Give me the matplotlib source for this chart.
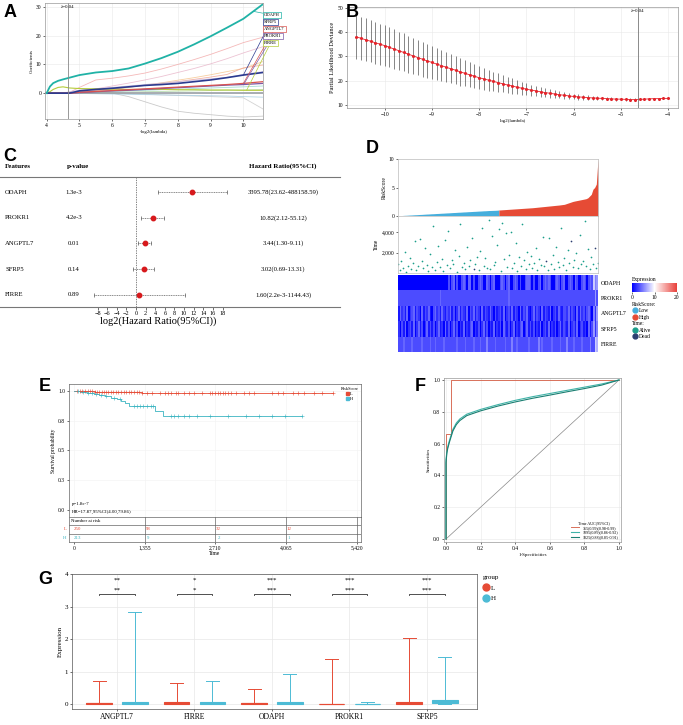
import numpy as np
import matplotlib
matplotlib.use("Agg")
import matplotlib.pyplot as plt
from matplotlib.colors import LinearSegmentedColormap, Normalize
from matplotlib.cm import ScalarMappable
from matplotlib.lines import Line2D
from matplotlib.patches import Patch

W, H = 683, 725

# ---------------- data ----------------
# A: lasso coefficient paths
coef_x = [4, 4.1, 4.2, 4.35, 4.5, 4.7, 5, 5.5, 6, 6.5, 7, 7.5, 8, 8.5, 9, 9.5, 10, 10.6]
coef_odaph = [0, 2.3, 3.5, 4.3, 4.8, 5.4, 6.3, 7.2, 7.7, 8.6, 10.3, 12.2, 14.4, 17.0, 19.8, 22.8, 25.9, 31.0]
coef_sfrp5 = [0, 0, 0, 0, 0, 0, 0.8, 1.3, 1.7, 2.2, 2.7, 3.0, 3.4, 4.0, 4.6, 5.4, 6.3, 7.2]
coef_angptl7 = [0, 0, 0, 0, 0, 0, 0.3, 0.6, 0.9, 1.2, 1.5, 1.8, 2.1, 2.4, 2.7, 3.0, 3.4, 4.0]
coef_prokr1 = [0, 0, 0, 0, 0, 0, 0.2, 0.5, 0.8, 1.0, 1.3, 1.6, 1.9, 2.2, 2.5, 2.8, 3.0, 3.4]
coef_firre = [0, 0.5, 1.3, 2.0, 2.2, 1.8, 1.6, 1.5, 1.4, 1.3, 1.3, 1.3, 1.2, 1.2, 1.1, 1.1, 1.0, 1.0]
coef_other = [
    [0, 0, 0, 0, 0, 0.3, 2.0, 4.6, 5.2, 6.0, 7.0, 8.4, 10.0, 11.7, 13.5, 15.5, 17.6, 19.5],
    [0, 0, 0, 0, 0, 0, 0.5, 1.5, 2.5, 3.5, 4.6, 5.8, 7.2, 8.6, 10.2, 12.0, 14.0, 16.2],
    [0, 0, 0, 0, 0, 0, 0.3, 0.8, 1.3, 2.0, 2.8, 3.6, 4.5, 5.4, 6.4, 7.5, 8.6, 11.0],
    [0, 0, 0, 0, 0, 0, 0.5, 1.0, 1.5, 2.1, 2.7, 3.3, 4.0, 4.8, 5.6, 6.5, 8.8, 9.8],
    [0, 0, 0, 0, 0, 0, 0.2, 0.3, 0.0, -1.2, -3.0, -4.8, -6.3, -7.0, -7.5, -8.0, -8.3, -8.0],
    [0, 0, 0, 0, 0, 0, 0, 0, 0, -0.2, -0.4, -0.6, -0.8, -1.0, -1.2, -1.4, -1.6, -5.5],
    [0, 0, 0, 0, 0, 0, -0.1, -0.2, -0.3, -0.4, -0.5, -0.6, -0.7, -0.8, -0.9, -1.0, -1.2, -1.4],
    [0, 0, 0, 0, 0, 0, 0.1, 0.2, 0.3, 0.4, 0.5, 0.6, 0.7, 0.8, 0.9, 1.0, 1.1, 1.2],
    [0, 0, 0, 0, 0, 0, 0.2, 0.4, 0.6, 0.8, 1.0, 1.2, 1.4, 1.6, 1.8, 2.0, 2.2, 2.5],
    [0, 0, 0, 0, 0, 0.5, 1.0, 1.5, 2.0, 2.5, 3.0, 3.5, 4.0, 4.5, 5.0, 5.5, 6.5, 7.5],
]
coef_other_colors = ["#f2a7a7", "#e8b4c8", "#f5c38a", "#f0a090", "#bdbdbd", "#c8c8c8",
                     "#9ecae1", "#a8d5a0", "#8fd3c8", "#c7b8e0"]
lam_best = 0.04

# B: cross validation curve
log_lam = np.round(np.arange(-10.6, -3.95, 0.1), 1)
cvm = [38.0, 37.4, 36.8, 36.2, 35.6, 35.0, 34.4,
       33.7, 33.0, 32.3, 31.6, 30.9, 30.2, 29.5, 28.8, 28.1, 27.5,
       26.8, 26.2, 25.5, 24.9, 24.3, 23.6, 23.0, 22.4, 21.8, 21.2,
       20.7, 20.2, 19.7, 19.2, 18.7, 18.2, 17.8, 17.3, 16.9, 16.5,
       16.1, 15.8, 15.4, 15.1, 14.8, 14.5, 14.2, 14.0, 13.7, 13.5,
       13.3, 13.2, 13.0, 12.9, 12.8, 12.7, 12.6, 12.5, 12.4, 12.4,
       12.3, 12.2, 12.2, 12.3, 12.4, 12.5, 12.6, 12.6, 12.7, 12.7]
cvsd = [9.0, 8.9, 8.8, 8.7, 8.6, 8.5, 8.4,
        8.2, 8.1, 7.9, 7.8, 7.6, 7.5, 7.3, 7.1, 7.0, 6.8,
        6.6, 6.4, 6.2, 6.0, 5.8, 5.6, 5.4, 5.2, 5.0, 4.8,
        4.5, 4.3, 4.0, 3.8, 3.5, 3.3, 3.1, 2.9, 2.7, 2.5,
        2.3, 2.2, 2.0, 1.9, 1.8, 1.6, 1.5, 1.4, 1.3, 1.2,
        1.1, 1.0, 0.9, 0.9, 0.8, 0.7, 0.7, 0.6, 0.6, 0.5,
        0.5, 0.5, 0.5, 0.4, 0.4, 0.4, 0.4, 0.4, 0.4, 0.4]

# C: multivariate cox
genes_c = ["ODAPH", "PROKR1", "ANGPTL7", "SFRP5", "FIRRE"]
pvals_c = ["1.3e-3", "4.2e-3", "0.01", "0.14", "0.89"]
hr_c = [3395.78, 10.82, 3.44, 3.02, 1.60]
hr_lo = [23.62, 2.12, 1.30, 0.69, 2.2e-3]
hr_hi = [488158.59, 55.12, 9.11, 13.31, 1144.43]
hr_text = ["3395.78(23.62-488158.59)", "10.82(2.12-55.12)", "3.44(1.30-9.11)",
           "3.02(0.69-13.31)", "1.60(2.2e-3-1144.43)"]

# D: risk score, survival time, expression heatmap
risk_score = [0.05, 0.07, 0.08, 0.10, 0.12, 0.13, 0.15, 0.17, 0.18, 0.20,
              0.22, 0.23, 0.25, 0.27, 0.28, 0.30, 0.32, 0.34, 0.35, 0.37,
              0.39, 0.40, 0.42, 0.44, 0.45, 0.47, 0.49, 0.50, 0.52, 0.54,
              0.55, 0.57, 0.59, 0.61, 0.62, 0.64, 0.66, 0.67, 0.69, 0.71,
              0.72, 0.74, 0.76, 0.77, 0.79, 0.81, 0.82, 0.84, 0.86, 0.87,
              0.89, 0.91, 0.92, 0.94, 0.96, 0.97, 0.98, 0.99, 1.00, 1.02,
              1.05, 1.07, 1.09, 1.11, 1.13, 1.15, 1.17, 1.19, 1.21, 1.23,
              1.25, 1.27, 1.29, 1.31, 1.33, 1.35, 1.37, 1.39, 1.41, 1.43,
              1.45, 1.48, 1.51, 1.54, 1.57, 1.60, 1.63, 1.66, 1.69, 1.72,
              1.75, 1.78, 1.81, 1.84, 1.87, 1.90, 1.93, 1.97, 2.01, 2.05,
              2.15, 2.25, 2.35, 2.45, 2.55, 2.62, 2.68, 2.74, 2.80, 2.86,
              2.92, 2.98, 3.05, 3.2, 3.5, 3.8, 4.7, 5.0, 5.6, 10.0]
n_low = 60
surv_time = [850, 300, 1200, 520, 2100, 90, 640, 1500, 410, 980,
             3100, 260, 700, 3300, 1150, 450, 2500, 800, 150, 1900,
             620, 4600, 330, 1050, 2700, 560, 1400, 210, 3200, 760,
             4100, 480, 1300, 880, 2300, 120, 1700, 4800, 590, 1000,
             350, 2600, 730, 1250, 3400, 440, 920, 1600, 270, 2200,
             4400, 680, 1450, 510, 5200, 380, 3600, 820, 1100, 2800,
             4300, 230, 4900, 1350, 3900, 610, 1800, 4000, 460, 950,
             2900, 180, 1550, 720, 4800, 1250, 390, 2100, 860, 1650,
             530, 1020, 2450, 310, 1400, 780, 3500, 650, 1200, 250,
             3400, 900, 1750, 420, 2600, 1100, 570, 4400, 740, 1500,
             330, 2300, 970, 3100, 600, 1300, 2000, 480, 3700, 840,
             1150, 5100, 700, 2400, 360, 1600, 920, 2500, 540, 1000]
dead_idx = [45, 88, 103, 117]
heat_genes = ["ODAPH", "PROKR1", "ANGPTL7", "SFRP5", "FIRRE"]
heat_rows = [
    "0000000000" "0000000000" "0000000000" "3034030034" "3044030034" "3004303400"
    "0343034003" "4303003443" "0300340343" "4300343034" "0034304300" "3430343856",
    "3333333333" "3333333333" "3333343333" "3333333333" "3333333333" "3333333333"
    "3333334333" "3333333333" "3333333333" "3333333333" "3333333333" "3333333363",
    "1423140234" "1320413241" "0342314213" "2413024132" "1403241320" "4132142031"
    "2314023141" "3204132410" "2413204132" "1402314213" "3241320414" "2313420526",
    "2031402314" "0241302413" "1302412041" "3024130214" "0213402130" "2413021402"
    "1304213024" "0213402413" "1302140231" "4021302413" "2140231402" "3120413625",
    "3334333343" "3333433334" "3343333433" "3333343333" "4333343334" "3335333343"
    "3333433353" "3433333343" "3333534333" "3343333433" "3533343333" "4333353387",
]

# E: Kaplan-Meier
km_t_L = [0, 400, 900, 1300, 1700, 4960]
km_s_L = [1.0, 0.995, 0.99, 0.985, 0.98, 0.98]
km_t_H = [0, 120, 250, 380, 480, 600, 700, 820, 900, 980, 1060, 1560, 1710, 4370]
km_s_H = [1.0, 0.99, 0.98, 0.975, 0.965, 0.955, 0.945, 0.935, 0.92, 0.90, 0.87, 0.83, 0.79, 0.79]
cens_L = [60, 110, 160, 210, 260, 300, 350, 400, 440, 480, 530, 570, 620, 660, 700, 750,
          800, 850, 900, 950, 1000, 1050, 1100, 1150, 1200, 1250, 1300, 1400, 1500, 1650,
          1750, 1800, 1850, 1950, 2000, 2100, 2200, 2300, 2450, 2600, 2650, 2700, 2750,
          2800, 2850, 2900, 2950, 3000, 3100, 3250, 3350, 3450, 3800, 3900, 4000, 4200,
          4300, 4400, 4600, 4750, 4960]
cens_H = [80, 180, 260, 340, 420, 520, 620, 760, 880, 1150, 1200, 1260, 1330, 1400, 1480,
          1520, 1850, 1920, 2000, 2100, 2200, 2350, 2600, 2950, 3300, 3550, 3800, 4050, 4370]
risk_ticks = [0, 1355, 2710, 4065, 5420]
at_risk_L = [250, 98, 32, 12]
at_risk_H = [213, 9, 2, 1]

# F: time dependent ROC
roc_fpr_365 = [0, 0, 0.03, 0.03, 1.0]
roc_tpr_365 = [0, 0.66, 0.66, 1.0, 1.0]
roc_fpr = [0, 0, 0.005, 0.01, 0.02, 0.04, 0.06, 0.08, 0.12, 0.2, 0.3, 0.4, 0.5, 0.6, 0.7, 0.8, 0.9, 1.0]
roc_tpr_1095 = [0, 0.5, 0.55, 0.58, 0.62, 0.69, 0.73, 0.755, 0.785, 0.815, 0.845, 0.872, 0.895, 0.915, 0.935, 0.955, 0.975, 1.0]
roc_tpr_1825 = [0, 0.48, 0.54, 0.57, 0.61, 0.68, 0.72, 0.745, 0.776, 0.806, 0.836, 0.862, 0.885, 0.905, 0.926, 0.946, 0.968, 1.0]
roc_labels = ["365(0.99)(0.98-0.99)", "1095(0.89)(0.86-0.92)", "1825(0.88)(0.85-0.91)"]

# G: expression by group
genes_g = ["ANGPTL7", "FIRRE", "ODAPH", "PROKR1", "SFRP5"]
box_L = [(0.0, 0.02, 0.04, 0.70), (0.01, 0.03, 0.06, 0.65), (0.0, 0.02, 0.04, 0.46),
         (0.0, 0.005, 0.01, 1.40), (0.01, 0.04, 0.08, 2.03)]
box_H = [(0.0, 0.03, 0.06, 2.82), (0.01, 0.03, 0.06, 0.72), (0.0, 0.03, 0.06, 0.93),
         (0.0, 0.005, 0.01, 0.08), (0.02, 0.06, 0.12, 1.44)]
sig_g = ["**", "*", "***", "***", "***"]

# ---------------- style ----------------
plt.rcParams["font.family"] = ["Liberation Serif", "DejaVu Serif"]
plt.rcParams["font.size"] = 4
plt.rcParams["axes.linewidth"] = 0.5
plt.rcParams["xtick.major.width"] = 0.4
plt.rcParams["ytick.major.width"] = 0.4
plt.rcParams["xtick.major.size"] = 1.5
plt.rcParams["ytick.major.size"] = 1.5
plt.rcParams["xtick.major.pad"] = 1.2
plt.rcParams["ytick.major.pad"] = 1.2
plt.rcParams["xtick.labelsize"] = 4
plt.rcParams["ytick.labelsize"] = 4
plt.rcParams["axes.labelsize"] = 4
plt.rcParams["axes.labelpad"] = 1.5

RED = "#E64B35"
BLUE = "#4DBBD5"
GRID = "#e8e8e8"


def rect(l, t, r, b):
    return [l / W, 1 - b / H, (r - l) / W, (b - t) / H]


fig = plt.figure(figsize=(W / 100, H / 100), dpi=100)

# ---------------- A ----------------
axA = fig.add_axes(rect(45, 3, 263, 119))
for vals, c in zip(coef_other, coef_other_colors):
    axA.plot(coef_x, vals, color=c, lw=0.6, alpha=0.8)
axA.axhline(0, color="#9aa0a6", lw=1.2)
axA.plot(coef_x, coef_firre, color="#b5cc3a", lw=0.8)
axA.plot(coef_x, coef_prokr1, color="#7b5aa6", lw=0.9)
axA.plot(coef_x, coef_angptl7, color="#d9534f", lw=0.9)
axA.plot(coef_x, coef_sfrp5, color="#2b3a8f", lw=1.2)
axA.plot(coef_x, coef_odaph, color="#20b2a6", lw=1.3)
axA.axvline(-np.log2(lam_best), color="#888888", lw=0.6)
axA.text(-np.log2(lam_best), 30, "λ=0.04", fontsize=3.5, ha="center", va="center")
axA.set_xlim(3.95, 10.6)
axA.set_ylim(-9, 31.4)
axA.set_xticks(range(4, 11))
axA.set_yticks([0, 10, 20, 30])
axA.set_xlabel("-log2(lambda)", fontsize=3.5)
axA.set_ylabel("Coefficients", fontsize=3.5)
axA.grid(color=GRID, lw=0.4)
for s in axA.spines.values():
    s.set_color("#999999")
labA = [("ODAPH", 0.897, "#20b2a6", (10.3, 28.5)),
        ("SFRP5", 0.836, "#2b3a8f", (10.0, 6.3)),
        ("ANGPTL7", 0.776, "#d9534f", (10.0, 3.4)),
        ("PROKR1", 0.716, "#7b5aa6", (10.0, 2.9)),
        ("FIRRE", 0.655, "#b5cc3a", (10.1, 1.0))]
for name, yf, c, xy in labA:
    axA.annotate(name, xy=xy, xycoords="data", xytext=(1.005, yf), textcoords="axes fraction",
                 fontsize=3.3, ha="left", va="center", annotation_clip=False,
                 bbox=dict(boxstyle="square,pad=0.25", fc="white", ec=c, lw=0.5),
                 arrowprops=dict(arrowstyle="-", color=c, lw=0.5, shrinkA=0, shrinkB=0))

# ---------------- B ----------------
axB = fig.add_axes(rect(347, 7, 678, 108))
axB.errorbar(log_lam, cvm, yerr=cvsd, fmt="none", ecolor="#555555", elinewidth=0.5)
axB.plot(log_lam, cvm, color="#e3242b", marker="o", ms=1.2, lw=0.6)
axB.axvline(np.log2(lam_best), color="#777777", lw=0.6)
axB.text(np.log2(lam_best), 48.5, "λ=0.04", fontsize=3.5, ha="center", va="center")
axB.set_xlim(-10.8, -3.79)
axB.set_ylim(8.75, 50.3)
axB.set_xticks(range(-10, -3))
axB.set_yticks([10, 20, 30, 40, 50])
axB.set_xlabel("log2(lambda)", fontsize=3.5)
axB.set_ylabel("Partial Likelihood Deviance", fontsize=4.5)
axB.grid(color=GRID, lw=0.4)
for s in axB.spines.values():
    s.set_color("#999999")

# ---------------- C ----------------
axC = fig.add_axes(rect(88, 177, 228, 307))
axC.set_xlim(-9.98, 19.13)
axC.set_ylim(0.53, 5.58)
for i in range(len(genes_c)):
    y = len(genes_c) - i
    lo, hi, pt = np.log2(hr_lo[i]), np.log2(hr_hi[i]), np.log2(hr_c[i])
    axC.plot([lo, hi], [y, y], color="#555555", lw=0.5, ls=(0, (1.5, 1)))
    axC.plot([lo, hi], [y, y], ls="none", marker="|", ms=3, mew=0.5, color="#555555")
    axC.plot(pt, y, "o", color="#d7191c", ms=3.2)
axC.axvline(0, color="#555555", lw=0.5, ls=(0, (2, 1.5)))
for s in axC.spines.values():
    s.set_visible(False)
axC.set_yticks([])
axC.set_xticks(range(-8, 19, 2))
axC.tick_params(axis="x", labelsize=4.5, length=2, pad=1)
axC.set_xlabel("log2(Hazard Ratio(95%CI))", fontsize=7.5, labelpad=0)

# ---------------- D ----------------
N = len(risk_score)
idx = np.arange(N)
axR = fig.add_axes(rect(398, 159, 598, 216))
axR.fill_between(idx[:n_low + 1], 0, risk_score[:n_low + 1], color="#46AEDC", lw=0)
axR.fill_between(idx[n_low:], 0, risk_score[n_low:], color=RED, lw=0)
axR.set_xlim(0, N - 1)
axR.set_ylim(0, 10)
axR.set_yticks([0, 5, 10])
axR.set_xticks([])
axR.set_ylabel("RiskScore", fontsize=4)
for s in axR.spines.values():
    s.set_color("#bbbbbb")

axT = fig.add_axes(rect(398, 216, 598, 273))
alive = [i for i in idx if i not in dead_idx]
axT.scatter(alive, [surv_time[i] for i in alive], s=1.5, color="#1B9E8A", lw=0)
axT.scatter(dead_idx, [surv_time[i] for i in dead_idx], s=1.5, color="#2C3E70", lw=0)
axT.set_xlim(0, N - 1)
axT.set_ylim(0, 5600)
axT.set_yticks([2000, 4000])
axT.set_yticklabels(["2,000", "4,000"])
axT.set_xticks([])
axT.set_ylabel("Time", fontsize=4)
for s in axT.spines.values():
    s.set_color("#bbbbbb")

heat = np.array([[int(ch) for ch in row] for row in heat_rows])
cmap_h = LinearSegmentedColormap.from_list("expr", ["#0000FF", "#FFFFFF", "#E8403A"])
axHm = fig.add_axes(rect(398, 275, 598, 352))
axHm.imshow(heat, aspect="auto", cmap=cmap_h, vmin=0, vmax=20, interpolation="nearest")
axHm.set_xticks([])
axHm.yaxis.tick_right()
axHm.set_yticks(range(len(heat_genes)))
axHm.set_yticklabels(heat_genes, fontsize=4.2)
axHm.tick_params(axis="y", length=0, pad=2)
for s in axHm.spines.values():
    s.set_visible(False)

axCb = fig.add_axes(rect(632, 283, 677, 292))
cb = fig.colorbar(ScalarMappable(norm=Normalize(0, 20), cmap=cmap_h), cax=axCb, orientation="horizontal")
cb.set_ticks([0, 10, 20])
cb.outline.set_visible(False)
axCb.tick_params(labelsize=4, length=1.5, pad=0.8)

# ---------------- E ----------------
axE = fig.add_axes(rect(69, 384, 361, 517))
axE.step(km_t_L, km_s_L, where="post", color=RED, lw=0.6)
axE.step(km_t_H, km_s_H, where="post", color="#3BB4C1", lw=0.6)
sL = [km_s_L[np.searchsorted(km_t_L, c, side="right") - 1] for c in cens_L]
sH = [km_s_H[np.searchsorted(km_t_H, c, side="right") - 1] for c in cens_H]
axE.plot(cens_L, sL, ls="none", marker="+", ms=2.2, mew=0.4, color=RED)
axE.plot(cens_H, sH, ls="none", marker="+", ms=2.2, mew=0.4, color="#3BB4C1")
axE.set_xlim(-96, 5500)
axE.set_ylim(-0.059, 1.059)
axE.set_yticks([0, 0.25, 0.5, 0.75, 1.0])
axE.set_yticklabels(["0.0", "0.3", "0.5", "0.8", "1.0"])
axE.set_xticks(risk_ticks)
axE.tick_params(axis="x", bottom=False, labelbottom=False)
axE.grid(color="#f2f2f2", lw=0.4)
axE.set_ylabel("Survival probability", fontsize=4)
for s in axE.spines.values():
    s.set_color("#666666")
axE.legend(handles=[Patch(color=RED, label="L"), Patch(color=BLUE, label="H")],
           title="RiskScore", loc="upper right", fontsize=3.2, title_fontsize=3.2,
           frameon=False, handlelength=0.7, handleheight=0.7, borderaxespad=0.2,
           labelspacing=0.2, handletextpad=0.3)
axE.text(0.01, 0.09, "p=1.8e-7", transform=axE.transAxes, fontsize=3.5)
axE.text(0.01, 0.03, "HR=17.87,95%CI(4.00,79.86)", transform=axE.transAxes, fontsize=3.5)

axTab = fig.add_axes(rect(69, 517, 361, 542))
axTab.set_xlim(-96, 5500)
axTab.set_ylim(3, 0)
axTab.axhline(1, color="#666666", lw=0.5)
axTab.axhline(2, color="#666666", lw=0.5)
for t in risk_ticks[1:]:
    axTab.axvline(t, color="#666666", lw=0.5)
axTab.text(-60, 0.5, "Number at risk", fontsize=3.5, va="center")
for t, nl, nh in zip(risk_ticks, at_risk_L, at_risk_H):
    axTab.text(t + 60, 1.5, str(nl), fontsize=3.5, color=RED, ha="center", va="center")
    axTab.text(t + 60, 2.5, str(nh), fontsize=3.5, color="#3BB4C1", ha="center", va="center")
axTab.text(-0.008, 1.5 / 3, "L", transform=axTab.transAxes, fontsize=3.5, color=RED,
           ha="right", va="center")
axTab.text(-0.008, 0.5 / 3, "H", transform=axTab.transAxes, fontsize=3.5, color="#3BB4C1",
           ha="right", va="center")
axTab.set_yticks([])
axTab.set_xticks(risk_ticks)
axTab.set_xticklabels([f"{t:,}" for t in risk_ticks])
axTab.set_xlabel("Time", fontsize=4, labelpad=0.5)
for s in axTab.spines.values():
    s.set_color("#666666")

# ---------------- F ----------------
axF = fig.add_axes(rect(444, 378, 621, 542))
axF.plot([0, 1], [0, 1], color="#888888", lw=0.5)
axF.plot(roc_fpr_365, roc_tpr_365, color="#D9705A", lw=0.7, label=roc_labels[0])
axF.plot(roc_fpr, roc_tpr_1095, color="#3FB3A8", lw=0.8, label=roc_labels[1])
axF.plot(roc_fpr, roc_tpr_1825, color="#1B7F72", lw=0.8, label=roc_labels[2])
axF.set_xlim(-0.0116, 1.0116)
axF.set_ylim(-0.0189, 1.0126)
axF.set_xticks(np.arange(0, 1.01, 0.2))
axF.set_yticks(np.arange(0, 1.01, 0.2))
axF.set_xticklabels([f"{v:.1f}" for v in np.arange(0, 1.01, 0.2)])
axF.set_yticklabels([f"{v:.1f}" for v in np.arange(0, 1.01, 0.2)])
axF.grid(color=GRID, lw=0.4)
axF.set_xlabel("1-Specificities", fontsize=3.5)
axF.set_ylabel("Sensitivities", fontsize=3.5)
for s in axF.spines.values():
    s.set_color("#999999")
axF.legend(title="Time AUC(95%CI)", loc="lower right", fontsize=3, title_fontsize=3,
           frameon=False, handlelength=2, labelspacing=0.15, borderaxespad=0.3)

# ---------------- G ----------------
axG = fig.add_axes(rect(72, 574, 477, 709))
off = 0.23
for grp, boxes, c, sign in [("L", box_L, RED, -1), ("H", box_H, BLUE, 1)]:
    stats = [dict(q1=b[0], med=b[1], q3=b[2], whislo=0.0, whishi=b[3], fliers=[]) for b in boxes]
    pos = [i + sign * off for i in range(len(boxes))]
    axG.bxp(stats, positions=pos, widths=0.33, capwidths=0.17, patch_artist=True,
            boxprops=dict(facecolor=c, edgecolor=c, lw=0.8),
            whiskerprops=dict(color=c, lw=0.7), capprops=dict(color=c, lw=0.7),
            medianprops=dict(color=c, lw=0.8), manage_ticks=False)
for i, s in enumerate(sig_g):
    axG.plot([i - off, i - off, i + off, i + off], [3.34, 3.4, 3.4, 3.34], color="#333333", lw=0.6)
    axG.text(i, 3.43, s, ha="center", va="bottom", fontsize=5)
    axG.text(i, 3.73, s, ha="center", va="bottom", fontsize=5)
axG.set_xlim(-0.58, 4.645)
axG.set_ylim(-0.15, 4.0)
axG.set_xticks(range(len(genes_g)))
axG.set_xticklabels(genes_g, fontsize=5.5)
axG.set_yticks(range(5))
axG.tick_params(axis="y", labelsize=5)
axG.set_ylabel("Expression", fontsize=5)
axG.grid(color=GRID, lw=0.5)
axG.set_axisbelow(True)
for s in axG.spines.values():
    s.set_color("#555555")

# ---------------- overlay: panel letters, table rules, legends ----------------
ov = fig.add_axes([0, 0, 1, 1], zorder=20)
ov.set_xlim(0, W)
ov.set_ylim(H, 0)
ov.axis("off")
ov.patch.set_alpha(0)

for lab, x, y in [("A", 10, 12), ("B", 352, 12), ("C", 10, 156), ("D", 372, 148),
                  ("E", 45, 386), ("F", 420, 386), ("G", 45, 580)]:
    ov.text(x, y, lab, fontsize=13, fontweight="bold", family="Liberation Sans",
            ha="center", va="center")

# C table
ov.plot([0, 340], [177, 177], color="#777777", lw=0.8)
ov.plot([0, 340], [307, 307], color="#777777", lw=0.8)
ov.text(5, 166, "Features", fontsize=5, fontweight="bold", va="center")
ov.text(67, 166, "p-value", fontsize=5, fontweight="bold", va="center")
ov.text(283, 166, "Hazard Ratio(95%CI)", fontsize=5, fontweight="bold", va="center", ha="center")
for i, (g, p, t) in enumerate(zip(genes_c, pvals_c, hr_text)):
    y = 192 + i * 25.7
    ov.text(5, y, g, fontsize=4.8, va="center")
    ov.text(74, y, p, fontsize=4.8, va="center", ha="center")
    ov.text(283, y, t, fontsize=4.8, va="center", ha="center")

# D legend
ov.text(632, 279, "Expression", fontsize=4, va="center")
ov.text(632, 304, "RiskScore:", fontsize=4, va="center")
ov.text(632, 323, "Time:", fontsize=4, va="center")
for y, lab, c in [(310, "Low", "#46AEDC"), (317, "High", RED), (330, "Alive", "#1B9E8A"),
                  (336, "Dead", "#2C3E70")]:
    ov.plot(634.5, y, "o", ms=3.5, color=c)
    ov.text(638.5, y, lab, fontsize=4, va="center")

# G legend
ov.text(483, 577, "group", fontsize=5, va="center")
for y, lab, c in [(587, "L", RED), (598, "H", BLUE)]:
    ov.plot(486, y, "o", ms=5, color=c)
    ov.text(491, y + 1, lab, fontsize=5, va="center")

fig.savefig("out.png", dpi=100)
